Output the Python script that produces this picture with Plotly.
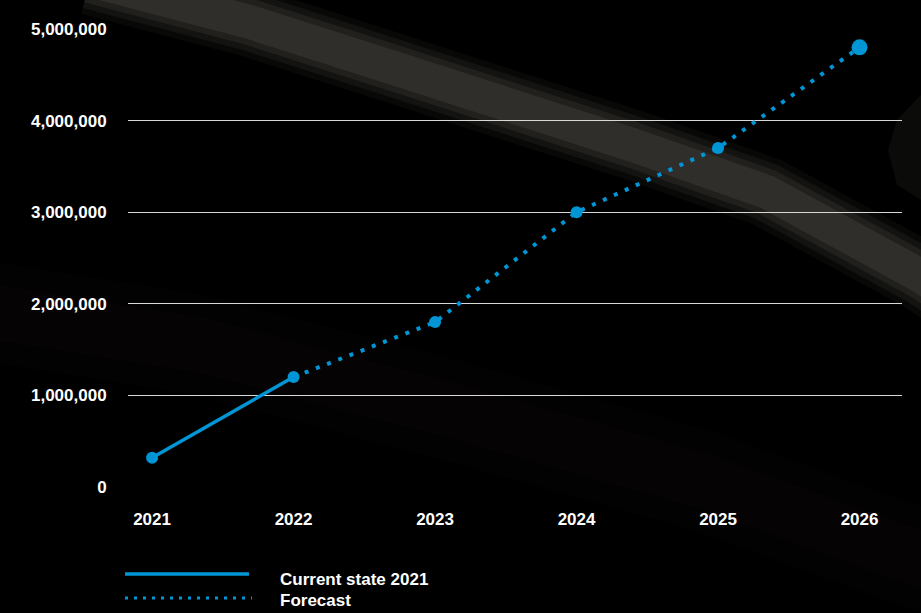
import plotly.graph_objects as go

years = [2021, 2022, 2023, 2024, 2025, 2026]
current_years = [2021, 2022]
current_values = [320000, 1200000]
forecast_years = [2022, 2023, 2024, 2025, 2026]
forecast_values = [1200000, 1800000, 3000000, 3700000, 4800000]
marker_sizes = [12, 12, 12, 12, 12, 16]
all_values = [320000, 1200000, 1800000, 3000000, 3700000, 4800000]
y_ticks = [0, 1000000, 2000000, 3000000, 4000000, 5000000]
legend_labels = ["Current state 2021", "Forecast"]

BLUE = "#0096d6"
FONT = "Liberation Sans, Arial"
W, H = 921, 613
L, R, T, B = 128, 19, 29, 126
PW, PH = W - L - R, H - T - B


def px(x):
    return (x - L) / PW


def py(y):
    return (H - B - y) / PH


fig = go.Figure()

fig.add_trace(go.Scatter(
    x=forecast_years, y=forecast_values, mode="lines",
    line=dict(color=BLUE, width=4, dash="4px,8px"),
    hoverinfo="skip", showlegend=False))
fig.add_trace(go.Scatter(
    x=current_years, y=current_values, mode="lines",
    line=dict(color=BLUE, width=3.5),
    hoverinfo="skip", showlegend=False))
fig.add_trace(go.Scatter(
    x=years, y=all_values, mode="markers",
    marker=dict(color=BLUE, size=marker_sizes, opacity=1, line=dict(width=0)),
    showlegend=False, cliponaxis=False))

shapes = []
# soft background band (photo-like glow)
band = [(90, -20), (250, 22), (400, 70), (633, 145), (767, 192), (921, 276), (980, 315)]
path = "M " + " L ".join(f"{px(x)},{py(y)}" for x, y in band)
for w, a in [(70, 0.045), (58, 0.065), (46, 0.085), (34, 0.1)]:
    shapes.append(dict(type="path", xref="paper", yref="paper", path=path,
                       line=dict(color=f"rgba(185,175,160,{a})", width=w),
                       layer="below"))
band2 = [(-20, 310), (200, 345), (450, 410), (700, 480), (950, 570)]
path2 = "M " + " L ".join(f"{px(x)},{py(y)}" for x, y in band2)
for w, a in [(100, 0.015), (55, 0.015)]:
    shapes.append(dict(type="path", xref="paper", yref="paper", path=path2,
                       line=dict(color=f"rgba(160,150,135,{a})", width=w),
                       layer="below"))
# faint object edge at right
edge = [(921, 95), (897, 120), (888, 150), (897, 185), (921, 200)]
path3 = "M " + " L ".join(f"{px(x)},{py(y)}" for x, y in edge) + " Z"
shapes.append(dict(type="path", xref="paper", yref="paper", path=path3,
                   fillcolor="rgba(160,150,135,0.07)", line=dict(width=0),
                   layer="below"))

# legend
shapes.append(dict(type="line", xref="paper", yref="paper",
                   x0=px(125), x1=px(249), y0=py(574), y1=py(574),
                   line=dict(color=BLUE, width=3.5)))
shapes.append(dict(type="line", xref="paper", yref="paper",
                   x0=px(125), x1=px(252), y0=py(598), y1=py(598),
                   line=dict(color=BLUE, width=3, dash="3px,6px")))

annotations = [
    dict(text=legend_labels[0], xref="paper", yref="paper", x=px(278), y=py(579),
         xanchor="left", yanchor="middle", showarrow=False,
         font=dict(color="white", size=17, family=FONT, weight="bold")),
    dict(text=legend_labels[1], xref="paper", yref="paper", x=px(278), y=py(600),
         xanchor="left", yanchor="middle", showarrow=False,
         font=dict(color="white", size=17, family=FONT, weight="bold")),
]

fig.update_layout(
    width=W, height=H,
    margin=dict(l=L, r=R, t=T, b=B),
    paper_bgcolor="black", plot_bgcolor="rgba(0,0,0,0)",
    shapes=shapes, annotations=annotations,
    font=dict(color="white", size=17, family=FONT, weight="bold"),
    showlegend=False,
)
fig.update_xaxes(
    range=[2020.83, 2026.30], tickvals=years, ticktext=[str(y) for y in years],
    showgrid=False, zeroline=False, showline=False,
    ticks="outside", ticklen=17, tickcolor="rgba(0,0,0,0)",
    tickfont=dict(color="white", size=17),
)
fig.update_yaxes(
    range=[0, 5000000], tickvals=y_ticks, tickformat=",",
    showgrid=True, gridcolor="#d8d8d8", gridwidth=1.2,
    zeroline=False, showline=False,
    ticks="outside", ticklen=17, tickcolor="rgba(0,0,0,0)",
    tickfont=dict(color="white", size=17),
)

fig.write_html("out.html")
